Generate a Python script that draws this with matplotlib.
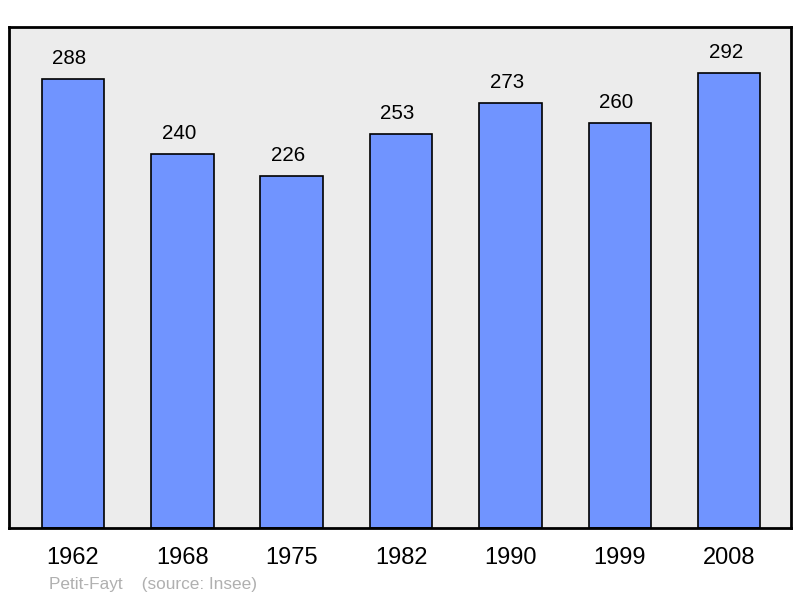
import matplotlib
matplotlib.use("Agg")
import matplotlib.pyplot as plt

years = ["1962", "1968", "1975", "1982", "1990", "1999", "2008"]
population = [288, 240, 226, 253, 273, 260, 292]

plt.rcParams['font.family'] = ['Liberation Sans', 'DejaVu Sans']

fig = plt.figure(figsize=(8, 5.98), dpi=100)
ax = fig.add_axes([9/800, 1 - 528/598, 782/800, 501/598])
ax.set_facecolor('#ececec')
x = list(range(len(years)))
ax.bar(x, population, width=0.572, color='#7094ff', edgecolor='black', linewidth=1.2, zorder=2)
ax.set_xlim(-0.585, 6.565)
ax.set_ylim(0, 321.7)
for xi, v in zip(x, population):
    ax.text(xi - 0.032, v + 13.3, str(v), ha='center', va='center', fontsize=14.8, color='black')
for s in ax.spines.values():
    s.set_linewidth(2)
    s.set_color('black')
ax.set_yticks([])
ax.set_xticks(x)
ax.set_xticklabels(years, fontsize=17)
ax.tick_params(axis='x', length=0, pad=14)
fig.text(49/800, 1 - 584/598, "Petit-Fayt    (source: Insee)", fontsize=12.4, color='#b0b0b0', ha='left', va='center')
fig.savefig("out.png", dpi=100)
